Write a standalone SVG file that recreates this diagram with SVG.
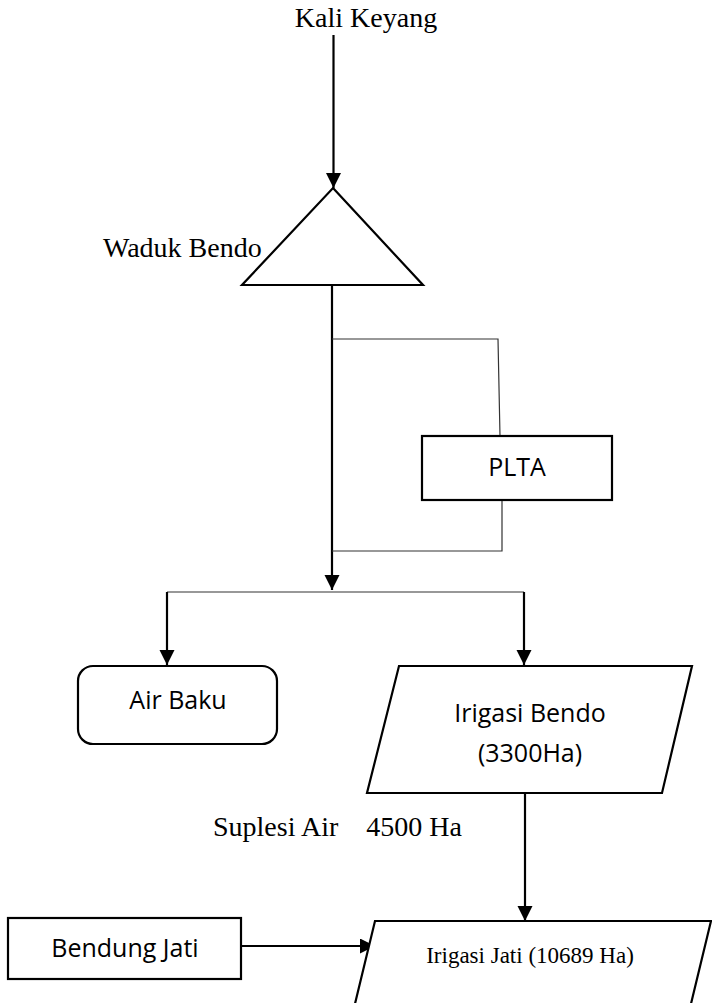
<svg xmlns="http://www.w3.org/2000/svg" width="712" height="1003" viewBox="0 0 712 1003">
<style>
.serif{font-family:"Liberation Serif","Times New Roman",serif;fill:#000}
.sans{font-family:"Open Sans","Noto Sans",sans-serif;fill:#000;font-size:25px}
.shape{fill:#fff;stroke:#000;stroke-width:2.2}
.conn{fill:none;stroke:#000;stroke-width:2.2}
.thin{fill:none;stroke:#333;stroke-width:1.2}
</style>
<defs>
<marker id="arr" markerUnits="userSpaceOnUse" markerWidth="16" markerHeight="16" refX="15" refY="7.5" orient="auto">
<path d="M0,0 L15,7.5 L0,15 Z" fill="#000"/>
</marker>
</defs>
<rect width="712" height="1003" fill="#fff"/>
<g id="connectors">
<line class="conn" x1="333.5" y1="35" x2="333.5" y2="188" marker-end="url(#arr)"/>
<line class="conn" x1="332" y1="285" x2="332" y2="590" marker-end="url(#arr)"/>
<polyline class="thin" points="332,339 498,339 500,436"/>
<polyline class="thin" points="502,500 502,551 332,551"/>
<line class="thin" x1="167" y1="592" x2="524" y2="592"/>
<line class="conn" x1="167" y1="592" x2="167" y2="665" marker-end="url(#arr)"/>
<line class="conn" x1="524" y1="592" x2="524" y2="665" marker-end="url(#arr)"/>
<line class="conn" x1="525" y1="793" x2="525" y2="921" marker-end="url(#arr)"/>
<line class="conn" x1="241" y1="946" x2="375" y2="946" marker-end="url(#arr)"/>
</g>
<g id="kali-keyang">
<text class="serif" x="366" y="27" font-size="28" text-anchor="middle">Kali Keyang</text>
</g>
<g id="waduk-bendo">
<polygon class="shape" points="333,188 423,285 242,285"/>
<text class="serif" x="103" y="257" font-size="28">Waduk Bendo</text>
</g>
<g id="plta">
<rect class="shape" x="422" y="436" width="190" height="64"/>
<text class="sans" x="517" y="476" text-anchor="middle">PLTA</text>
</g>
<g id="air-baku">
<rect class="shape" x="78" y="666" width="199" height="78" rx="15" ry="15"/>
<text class="sans" x="178" y="709" text-anchor="middle">Air Baku</text>
</g>
<g id="irigasi-bendo">
<polygon class="shape" points="399,666 692,666 662,793 367,793"/>
<text class="sans" x="530" y="722" text-anchor="middle">Irigasi Bendo</text>
<text class="sans" x="530" y="762" text-anchor="middle">(3300Ha)</text>
</g>
<g id="suplesi-label">
<text class="serif" x="213" y="836" font-size="28" xml:space="preserve">Suplesi Air    4500 Ha</text>
</g>
<g id="bendung-jati">
<rect class="shape" x="8" y="918" width="233" height="61"/>
<text class="sans" x="125" y="957" text-anchor="middle">Bendung Jati</text>
</g>
<g id="irigasi-jati">
<polygon class="shape" points="375,921 711,921 689,1012 353,1012"/>
<text class="serif" x="530" y="963" font-size="23" text-anchor="middle">Irigasi Jati (10689 Ha)</text>
</g>
</svg>
